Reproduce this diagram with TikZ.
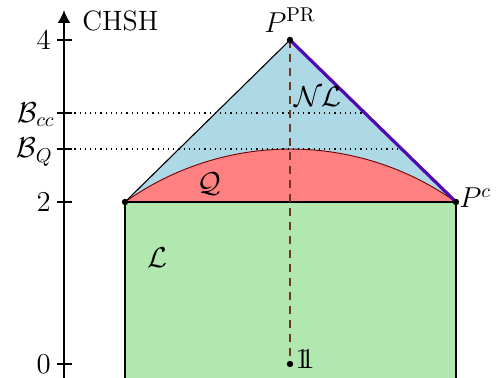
\documentclass[tikz,border=0pt]{standalone}
\usepackage{amsmath,amssymb}
\usetikzlibrary{arrows.meta}
\definecolor{nlblue}{RGB}{173,216,230}
\definecolor{qred}{RGB}{255,128,128}
\definecolor{lgreen}{RGB}{176,232,176}
\definecolor{prpurple}{RGB}{80,10,180}
\definecolor{dbrown}{RGB}{110,55,25}
\newcommand{\idone}{\mathrm{1}\mkern-5.5mu\mathrm{1}}
\tikzset{
  lbl/.style={font=\fontsize{14}{17}\selectfont, inner sep=1pt},
  pt/.style={circle, fill=black, inner sep=0pt, minimum size=3.2pt},
  tick/.style={line width=0.9pt},
  guide/.style={dotted, line width=0.6pt},
}
\begin{document}
\begin{tikzpicture}[x=0.5pt,y=-0.5pt]
\useasboundingbox (0,0) rectangle (498,378);
\clip (0,0) rectangle (498,378);
% key points
\coordinate (L) at (125,202);
\coordinate (R) at (456,202);
\coordinate (A) at (290,40);
\coordinate (O) at (290,364);
% regions
\fill[nlblue] (L) -- (A) -- (R) -- cycle;
\fill[qred] (L) arc[start angle=-125.5, end angle=-54.5, radius=284.9] -- cycle;
\draw[red!45!black, line width=0.45pt] (L) arc[start angle=-125.5, end angle=-54.5, radius=284.9];
\fill[lgreen] (125,202) rectangle (456,390);
\draw[line width=0.55pt] (125,390) -- (L) -- (R) -- (456,390);
\draw[line width=0.55pt] (L) -- (A);
% guides
\coordinate (Bcc0) at (64,113);
\coordinate (BQ0) at (64,149);
\coordinate (Bcc1) at (365,113);
\coordinate (BQ1) at (401.5,149);
\draw[guide] (Bcc0) -- (Bcc1);
\draw[guide] (BQ0) -- (BQ1);
% dashed vertical
\draw[dbrown, dashed, dash pattern=on 4pt off 3pt, line width=0.9pt] (A) -- (O);
% purple edge
\draw[prpurple, line width=1.6pt] (A) -- (R);
% axis
\coordinate (ax0) at (64,390);
\coordinate (ax1) at (64,10);
\draw[line width=0.9pt, -{Latex[length=6.5pt,width=6.5pt]}] (ax0) -- (ax1);
\foreach \yy in {40,113,149,202,364} \draw[tick] (57,\yy) -- (72,\yy);
% tick labels
\node[lbl, anchor=east] (t4) at (53,40) {$4$};
\node[lbl, anchor=east] (t2) at (53,202) {$2$};
\node[lbl, anchor=east] (t0) at (53,364) {$0$};
\node[lbl, anchor=east] (tcc) at (57,115) {$\mathcal{B}_{cc}$};
\node[lbl, anchor=east] (tq) at (55,152) {$\mathcal{B}_{Q}$};
\node[lbl, anchor=west] (chsh) at (80,21) {CHSH};
% points
\node[pt] (pA) at (A) {};
\node[pt] (pL) at (L) {};
\node[pt] (pR) at (R) {};
\node[pt] (pO) at (O) {};
% labels
\node[lbl] (lPR) at (290,20) {$P^{\mathrm{PR}}$};
\node[lbl, anchor=west] (lPc) at (457,198) {$P^{c}$};
\node[lbl] (lNL) at (318,97) {$\mathcal{NL}$};
\node[lbl] (lQ) at (209,184) {$\mathcal{Q}$};
\node[lbl] (lL) at (157,258) {$\mathcal{L}$};
\node[lbl, anchor=west] (l1) at (293,359) {$\idone$};
\end{tikzpicture}
\end{document}
